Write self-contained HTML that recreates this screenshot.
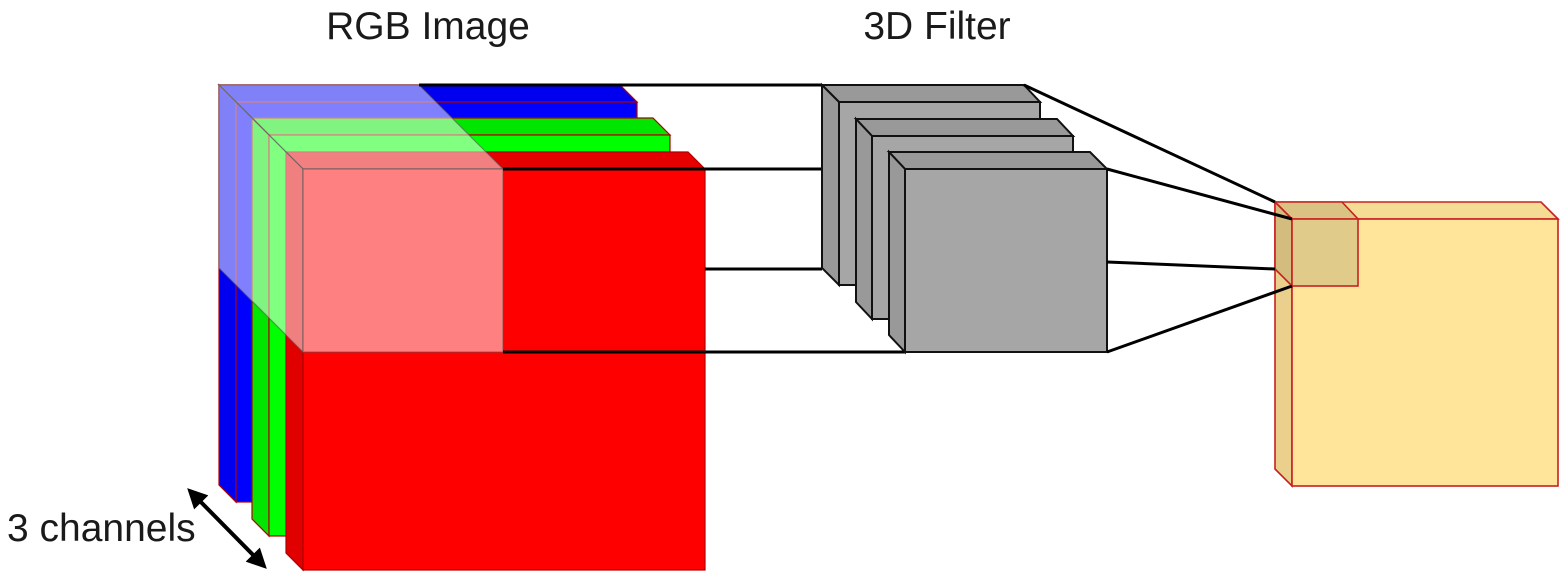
<!DOCTYPE html>
<html><head><style>body{margin:0;background:#fff}svg{display:block}</style></head>
<body>
<svg width="1560" height="588" viewBox="0 0 1560 588" xmlns="http://www.w3.org/2000/svg" font-family="Liberation Sans, sans-serif">
<defs>
<marker id="ah" viewBox="0 0 10 10" refX="8" refY="5" markerWidth="5" markerHeight="5" orient="auto-start-reverse"><path d="M0,0 L10,5 L0,10 Z" fill="#000"/></marker>
</defs>
<text x="428" y="39" font-size="39" text-anchor="middle" fill="#1a1a1a">RGB Image</text>
<text x="937" y="39" font-size="39" text-anchor="middle" fill="#1a1a1a">3D Filter</text>
<text x="7" y="541" font-size="39" fill="#1a1a1a">3 channels</text>
<line x1="190" y1="491" x2="264" y2="566" stroke="#000" stroke-width="4" marker-start="url(#ah)" marker-end="url(#ah)"/>

<g stroke="#b00000" stroke-width="1.2">
<polygon points="219,85 620,85 637,102 236,102" fill="#0000ee"/>
<polygon points="219,85 236,102 236,502 219,485" fill="#0000ee"/>
<rect x="236" y="102" width="401" height="400" fill="#0000ff"/>
<polygon points="252,118 653,118 670,135 269,135" fill="#00e600"/>
<polygon points="252,118 269,135 269,536 252,519" fill="#00e600"/>
<rect x="269" y="135" width="401" height="401" fill="#00ff00"/>
<polygon points="286,152 688,152 705,169 303,169" fill="#e60000"/>
<polygon points="286,152 303,169 303,570 286,553" fill="#e00000"/>
<rect x="303" y="169" width="402" height="401" fill="#ff0000"/>
</g>
<g fill="#fff" fill-opacity="0.5" stroke="#555" stroke-opacity="0.6" stroke-width="1.2">
<polygon points="219,85 419,85 503,169 303,169"/>
<polygon points="219,85 303,169 303,352 219,268"/>
<rect x="303" y="169" width="200" height="183"/>
</g>

<g stroke="#000" stroke-width="3" fill="none">
<line x1="419" y1="85" x2="822" y2="85"/>
<line x1="503" y1="169" x2="905" y2="169"/>
<line x1="705" y1="269" x2="822" y2="269"/>
<line x1="503" y1="352" x2="905" y2="352"/>
</g>

<g stroke="#111" stroke-width="2">
<polygon points="822,85 1024,85 1040,102 839,102" fill="#999"/>
<polygon points="822,85 839,102 839,285 822,268" fill="#999"/>
<rect x="839" y="102" width="201" height="183" fill="#a6a6a6"/>
<polygon points="856,119 1057,119 1073,136 872,136" fill="#999"/>
<polygon points="856,119 872,136 872,319 856,302" fill="#999"/>
<rect x="872" y="136" width="201" height="183" fill="#a6a6a6"/>
<polygon points="889,152 1090,152 1107,169 905,169" fill="#999"/>
<polygon points="889,152 905,169 905,352 889,335" fill="#999"/>
<rect x="905" y="169" width="202" height="183" fill="#a6a6a6"/>
</g>

<g stroke="#c82020" stroke-width="1.6">
<polygon points="1275,202 1541,202 1558,219 1292,219" fill="#f5dc94"/>
<polygon points="1275,202 1292,219 1292,486 1275,469" fill="#ead08c"/>
<rect x="1292" y="219" width="266" height="267" fill="#ffe599"/>
<polygon points="1275,202 1342,202 1358,219 1292,219" fill="#d9c282"/>
<polygon points="1275,202 1292,219 1292,286 1275,269" fill="#d3bc7e"/>
<rect x="1292" y="219" width="66" height="67" fill="#e0cb8a"/>
</g>

<g stroke="#000" stroke-width="3">
<line x1="1024" y1="85" x2="1275" y2="202"/>
<line x1="1107" y1="169" x2="1292" y2="219"/>
<line x1="1107" y1="262" x2="1275" y2="269"/>
<line x1="1107" y1="352" x2="1292" y2="286"/>
</g>
</svg>
</body></html>
